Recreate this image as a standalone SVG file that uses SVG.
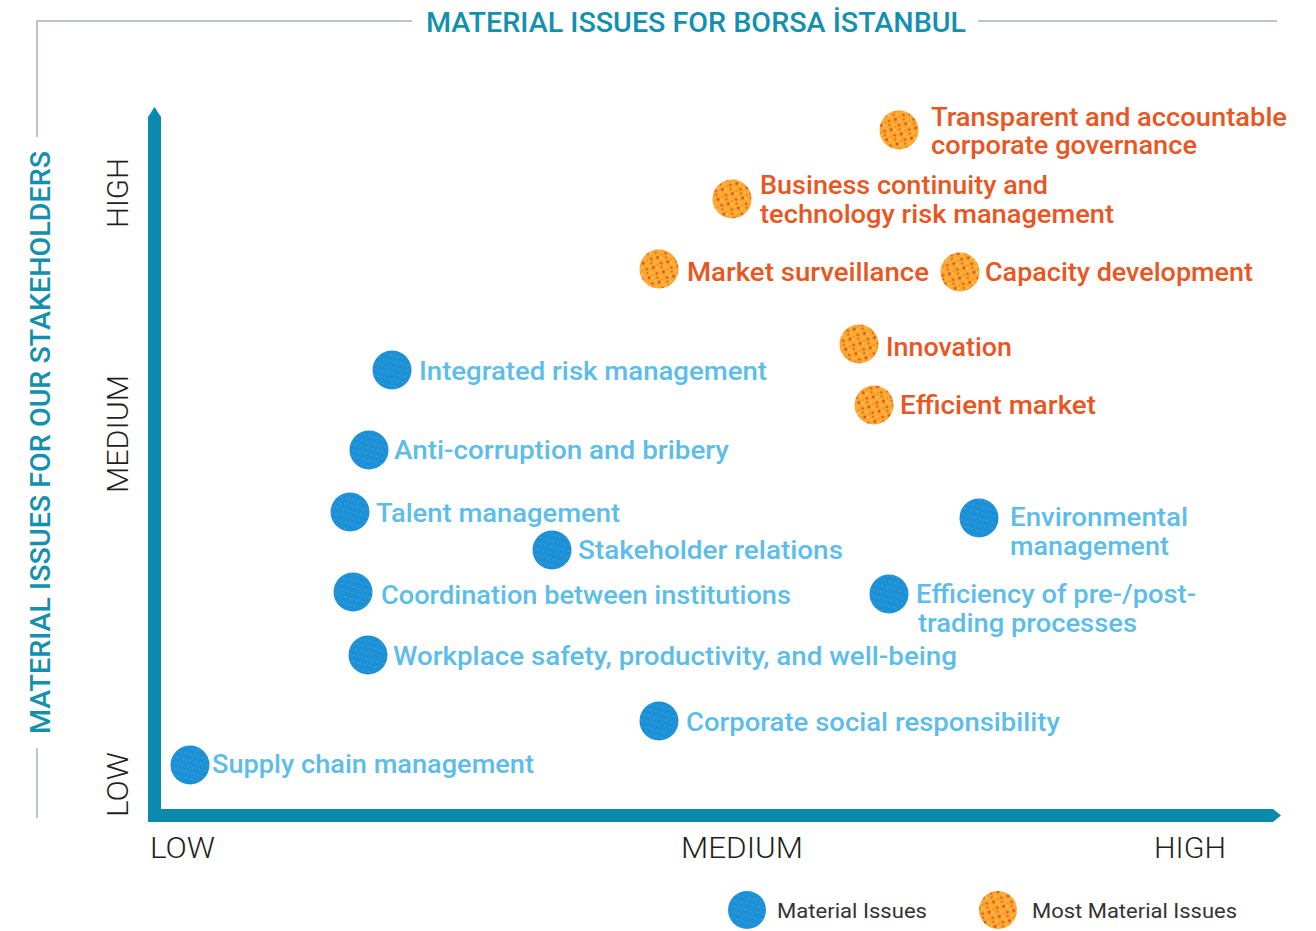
<svg xmlns="http://www.w3.org/2000/svg" width="1316" height="931" viewBox="0 0 1316 931">
  <style>
    .frame { stroke: #a3b3c1; stroke-width: 1.5; fill: none; }
    .title { font-family: Roboto, "Liberation Sans", sans-serif; font-weight: 500; font-size: 28px; fill: #1390ad; }
    .axis { font-family: Roboto, "Liberation Sans", sans-serif; font-weight: 300; font-size: 30px; fill: #231f20; }
    .lbl { font-family: Roboto, "Liberation Sans", sans-serif; font-weight: 500; font-size: 26px; }
    .org { fill: #e9561f; }
    .blu { fill: #5dbde9; }
    .leg { font-family: Roboto, "Liberation Sans", sans-serif; font-weight: 400; font-size: 21px; fill: #333333; }
    .bdot { fill: url(#bluePat); }
    .odot { fill: url(#orangePat); }
  </style>
  <defs>
    <pattern id="orangePat" patternUnits="userSpaceOnUse" width="11" height="11" patternTransform="rotate(23)">
      <rect width="11" height="11" fill="#f9a92e"/>
      <circle cx="2" cy="2" r="1.5" fill="#e4452b"/>
      <circle cx="7.5" cy="6" r="1.3" fill="#e85029"/>
      <circle cx="5" cy="1.2" r="1" fill="#fdd277"/>
      <circle cx="1.6" cy="7.5" r="1.1" fill="#fbbf4d"/>
      <circle cx="9.5" cy="9.5" r="0.9" fill="#e4452b"/>
      <circle cx="4.5" cy="9" r="0.8" fill="#f07a26"/>
      <circle cx="9" cy="2.5" r="0.8" fill="#fcc65a"/>
    </pattern>
    <pattern id="bluePat" patternUnits="userSpaceOnUse" width="6" height="6" patternTransform="rotate(15)">
      <rect width="6" height="6" fill="#1b8fd5"/>
      <circle cx="1.5" cy="1.5" r="0.8" fill="#47abe4"/>
      <circle cx="4.5" cy="4" r="0.6" fill="#36a1df"/>
      <circle cx="4" cy="1" r="0.4" fill="#6cc0ee"/>
    </pattern>
  </defs>

  <rect width="1316" height="931" fill="#ffffff"/>

  <g id="frame">
    <polyline class="frame" points="412,21 37,21 37,137"/>
    <line class="frame" x1="978" y1="21" x2="1277" y2="21"/>
    <line class="frame" x1="37" y1="748" x2="37" y2="818"/>
    <text class="title" x="426" y="32" textLength="540" lengthAdjust="spacingAndGlyphs">MATERIAL ISSUES FOR BORSA İSTANBUL</text>
    <text class="title" transform="translate(50,734) rotate(-90)" x="0" y="0" textLength="583" lengthAdjust="spacingAndGlyphs">MATERIAL ISSUES FOR OUR STAKEHOLDERS</text>
  </g>

  <g id="axes">
    <path d="M148,822 L148,117 L154.5,107 L161,117 L161,809 L1273,809 L1281,815.5 L1273,822 Z" fill="#0a8bad"/>
    <text class="axis" x="150" y="858" textLength="65" lengthAdjust="spacingAndGlyphs">LOW</text>
    <text class="axis" x="681" y="858" textLength="122" lengthAdjust="spacingAndGlyphs">MEDIUM</text>
    <text class="axis" x="1154" y="858" textLength="72" lengthAdjust="spacingAndGlyphs">HIGH</text>
    <text class="axis" transform="translate(128,228) rotate(-90)" textLength="70" lengthAdjust="spacingAndGlyphs">HIGH</text>
    <text class="axis" transform="translate(128,493) rotate(-90)" textLength="118" lengthAdjust="spacingAndGlyphs">MEDIUM</text>
    <text class="axis" transform="translate(128,817) rotate(-90)" textLength="65" lengthAdjust="spacingAndGlyphs">LOW</text>
  </g>

  <g id="connectors"></g>

  <g id="n-transparent">
    <circle class="odot" cx="899" cy="130" r="19.5"/>
    <text class="lbl org" x="931" y="126" textLength="356" lengthAdjust="spacingAndGlyphs">Transparent and accountable</text>
    <text class="lbl org" x="931" y="154" textLength="266" lengthAdjust="spacingAndGlyphs">corporate governance</text>
  </g>
  <g id="n-business">
    <circle class="odot" cx="732" cy="199" r="19.5"/>
    <text class="lbl org" x="760" y="194" textLength="288" lengthAdjust="spacingAndGlyphs">Business continuity and</text>
    <text class="lbl org" x="760" y="223" textLength="354" lengthAdjust="spacingAndGlyphs">technology risk management</text>
  </g>
  <g id="n-market">
    <circle class="odot" cx="659" cy="269" r="19.5"/>
    <text class="lbl org" x="687" y="281" textLength="242" lengthAdjust="spacingAndGlyphs">Market surveillance</text>
  </g>
  <g id="n-capacity">
    <circle class="odot" cx="960" cy="272" r="19.5"/>
    <text class="lbl org" x="985" y="281" textLength="268" lengthAdjust="spacingAndGlyphs">Capacity development</text>
  </g>
  <g id="n-innovation">
    <circle class="odot" cx="859" cy="344" r="19.5"/>
    <text class="lbl org" x="886" y="356" textLength="126" lengthAdjust="spacingAndGlyphs">Innovation</text>
  </g>
  <g id="n-efficient">
    <circle class="odot" cx="874" cy="405" r="19.5"/>
    <text class="lbl org" x="900" y="414" textLength="196" lengthAdjust="spacingAndGlyphs">Efficient market</text>
  </g>

  <g id="n-integrated">
    <circle class="bdot" cx="392" cy="370" r="19.5"/>
    <text class="lbl blu" x="419" y="380" textLength="348" lengthAdjust="spacingAndGlyphs">Integrated risk management</text>
  </g>
  <g id="n-anticorruption">
    <circle class="bdot" cx="369" cy="450" r="19.5"/>
    <text class="lbl blu" x="394" y="459" textLength="335" lengthAdjust="spacingAndGlyphs">Anti-corruption and bribery</text>
  </g>
  <g id="n-talent">
    <circle class="bdot" cx="350" cy="512" r="19.5"/>
    <text class="lbl blu" x="376" y="522" textLength="244" lengthAdjust="spacingAndGlyphs">Talent management</text>
  </g>
  <g id="n-stakeholder">
    <circle class="bdot" cx="552" cy="550" r="19.5"/>
    <text class="lbl blu" x="578" y="559" textLength="265" lengthAdjust="spacingAndGlyphs">Stakeholder relations</text>
  </g>
  <g id="n-environmental">
    <circle class="bdot" cx="979" cy="518" r="19.5"/>
    <text class="lbl blu" x="1010" y="526" textLength="178" lengthAdjust="spacingAndGlyphs">Environmental</text>
    <text class="lbl blu" x="1010" y="555" textLength="159" lengthAdjust="spacingAndGlyphs">management</text>
  </g>
  <g id="n-coordination">
    <circle class="bdot" cx="353" cy="592" r="19.5"/>
    <text class="lbl blu" x="381" y="604" textLength="410" lengthAdjust="spacingAndGlyphs">Coordination between institutions</text>
  </g>
  <g id="n-efficiency">
    <circle class="bdot" cx="889" cy="594" r="19.5"/>
    <text class="lbl blu" x="916" y="603" textLength="280" lengthAdjust="spacingAndGlyphs">Efficiency of pre-/post-</text>
    <text class="lbl blu" x="918" y="632" textLength="219" lengthAdjust="spacingAndGlyphs">trading processes</text>
  </g>
  <g id="n-workplace">
    <circle class="bdot" cx="368" cy="655" r="19.5"/>
    <text class="lbl blu" x="393" y="665" textLength="564" lengthAdjust="spacingAndGlyphs">Workplace safety, productivity, and well-being</text>
  </g>
  <g id="n-csr">
    <circle class="bdot" cx="659" cy="721" r="19.5"/>
    <text class="lbl blu" x="686" y="731" textLength="374" lengthAdjust="spacingAndGlyphs">Corporate social responsibility</text>
  </g>
  <g id="n-supply">
    <circle class="bdot" cx="190" cy="765" r="19.5"/>
    <text class="lbl blu" x="212" y="773" textLength="322" lengthAdjust="spacingAndGlyphs">Supply chain management</text>
  </g>

  <g id="legend">
    <circle class="bdot" cx="747" cy="910" r="19"/>
    <text class="leg" x="777" y="918" textLength="150" lengthAdjust="spacingAndGlyphs">Material Issues</text>
    <circle class="odot" cx="998" cy="910" r="19"/>
    <text class="leg" x="1032" y="918" textLength="205" lengthAdjust="spacingAndGlyphs">Most Material Issues</text>
  </g>
</svg>
